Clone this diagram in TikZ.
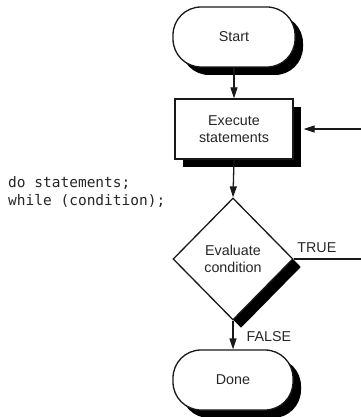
\documentclass[tikz,border=0pt]{standalone}
\usepackage{fontspec}
\setsansfont{Liberation Sans}
\newfontfamily\codefont{DejaVu Sans Mono}
\usetikzlibrary{arrows.meta,shapes.geometric,shadows}

\begin{document}
\begin{tikzpicture}[
  x=1pt, y=-1pt,
  >={Triangle[length=11pt,width=7pt]},
  ink/.style={draw=black!90,line width=1.3pt,fill=white},
  shade8/.style={drop shadow={shadow xshift=8pt,shadow yshift=-8pt,fill=black,opacity=1}},
  terminal/.style={ink,shade8,rectangle,rounded corners=28pt,minimum height=60pt,
                   text=black!85,font=\sffamily\fontsize{14.3}{17}\selectfont},
  process/.style={ink,shade8,rectangle,minimum width=118pt,minimum height=60pt,
                  text=black!85,align=center,font=\sffamily\fontsize{14.3}{17}\selectfont},
  decision/.style={ink,shade8,diamond,inner sep=0pt,minimum width=120pt,minimum height=122pt,
                   text=black!85,align=center,font=\sffamily\fontsize{14.3}{17}\selectfont},
  flow/.style={->,line width=1.3pt,draw=black!90},
  lbl/.style={font=\sffamily\fontsize{14.3}{17}\selectfont,text=black!85,inner sep=0pt},
  code/.style={font=\codefont\fontsize{14.5}{18}\selectfont,text=black!85,align=left,inner sep=0pt},
]
\useasboundingbox (0,0) rectangle (360,417);

% Flowchart boxes
\node[terminal,minimum width=122pt] (start) at (234,37)  {Start};
\node[process]                      (exec)  at (234,129) {Execute\\statements};
\node[decision]                     (eval)  at (233,259) {Evaluate\\condition};
\node[terminal,minimum width=120pt] (done)  at (233,380) {Done};

% Source code of the loop
\node[code,anchor=north west] (src) at (8,176) {do statements;\\while (condition);};

% Arrows
\draw[flow] (start.south) -- (exec.north);
\draw[flow] (exec.south) -- (eval.north);
\draw[flow] (eval.south) -- (done.north)
  node[lbl,pos=0.55,right=13pt] {FALSE};

% Loop back on TRUE (runs off the right edge)
\coordinate (loopR) at (364,259);
\draw[line width=1.3pt,draw=black!90] (eval.east) -- (loopR)
  node[lbl,pos=0.33,above=6pt] {TRUE};
\draw[flow] (loopR) |- ([xshift=10pt]exec.east);

\end{tikzpicture}
\end{document}
